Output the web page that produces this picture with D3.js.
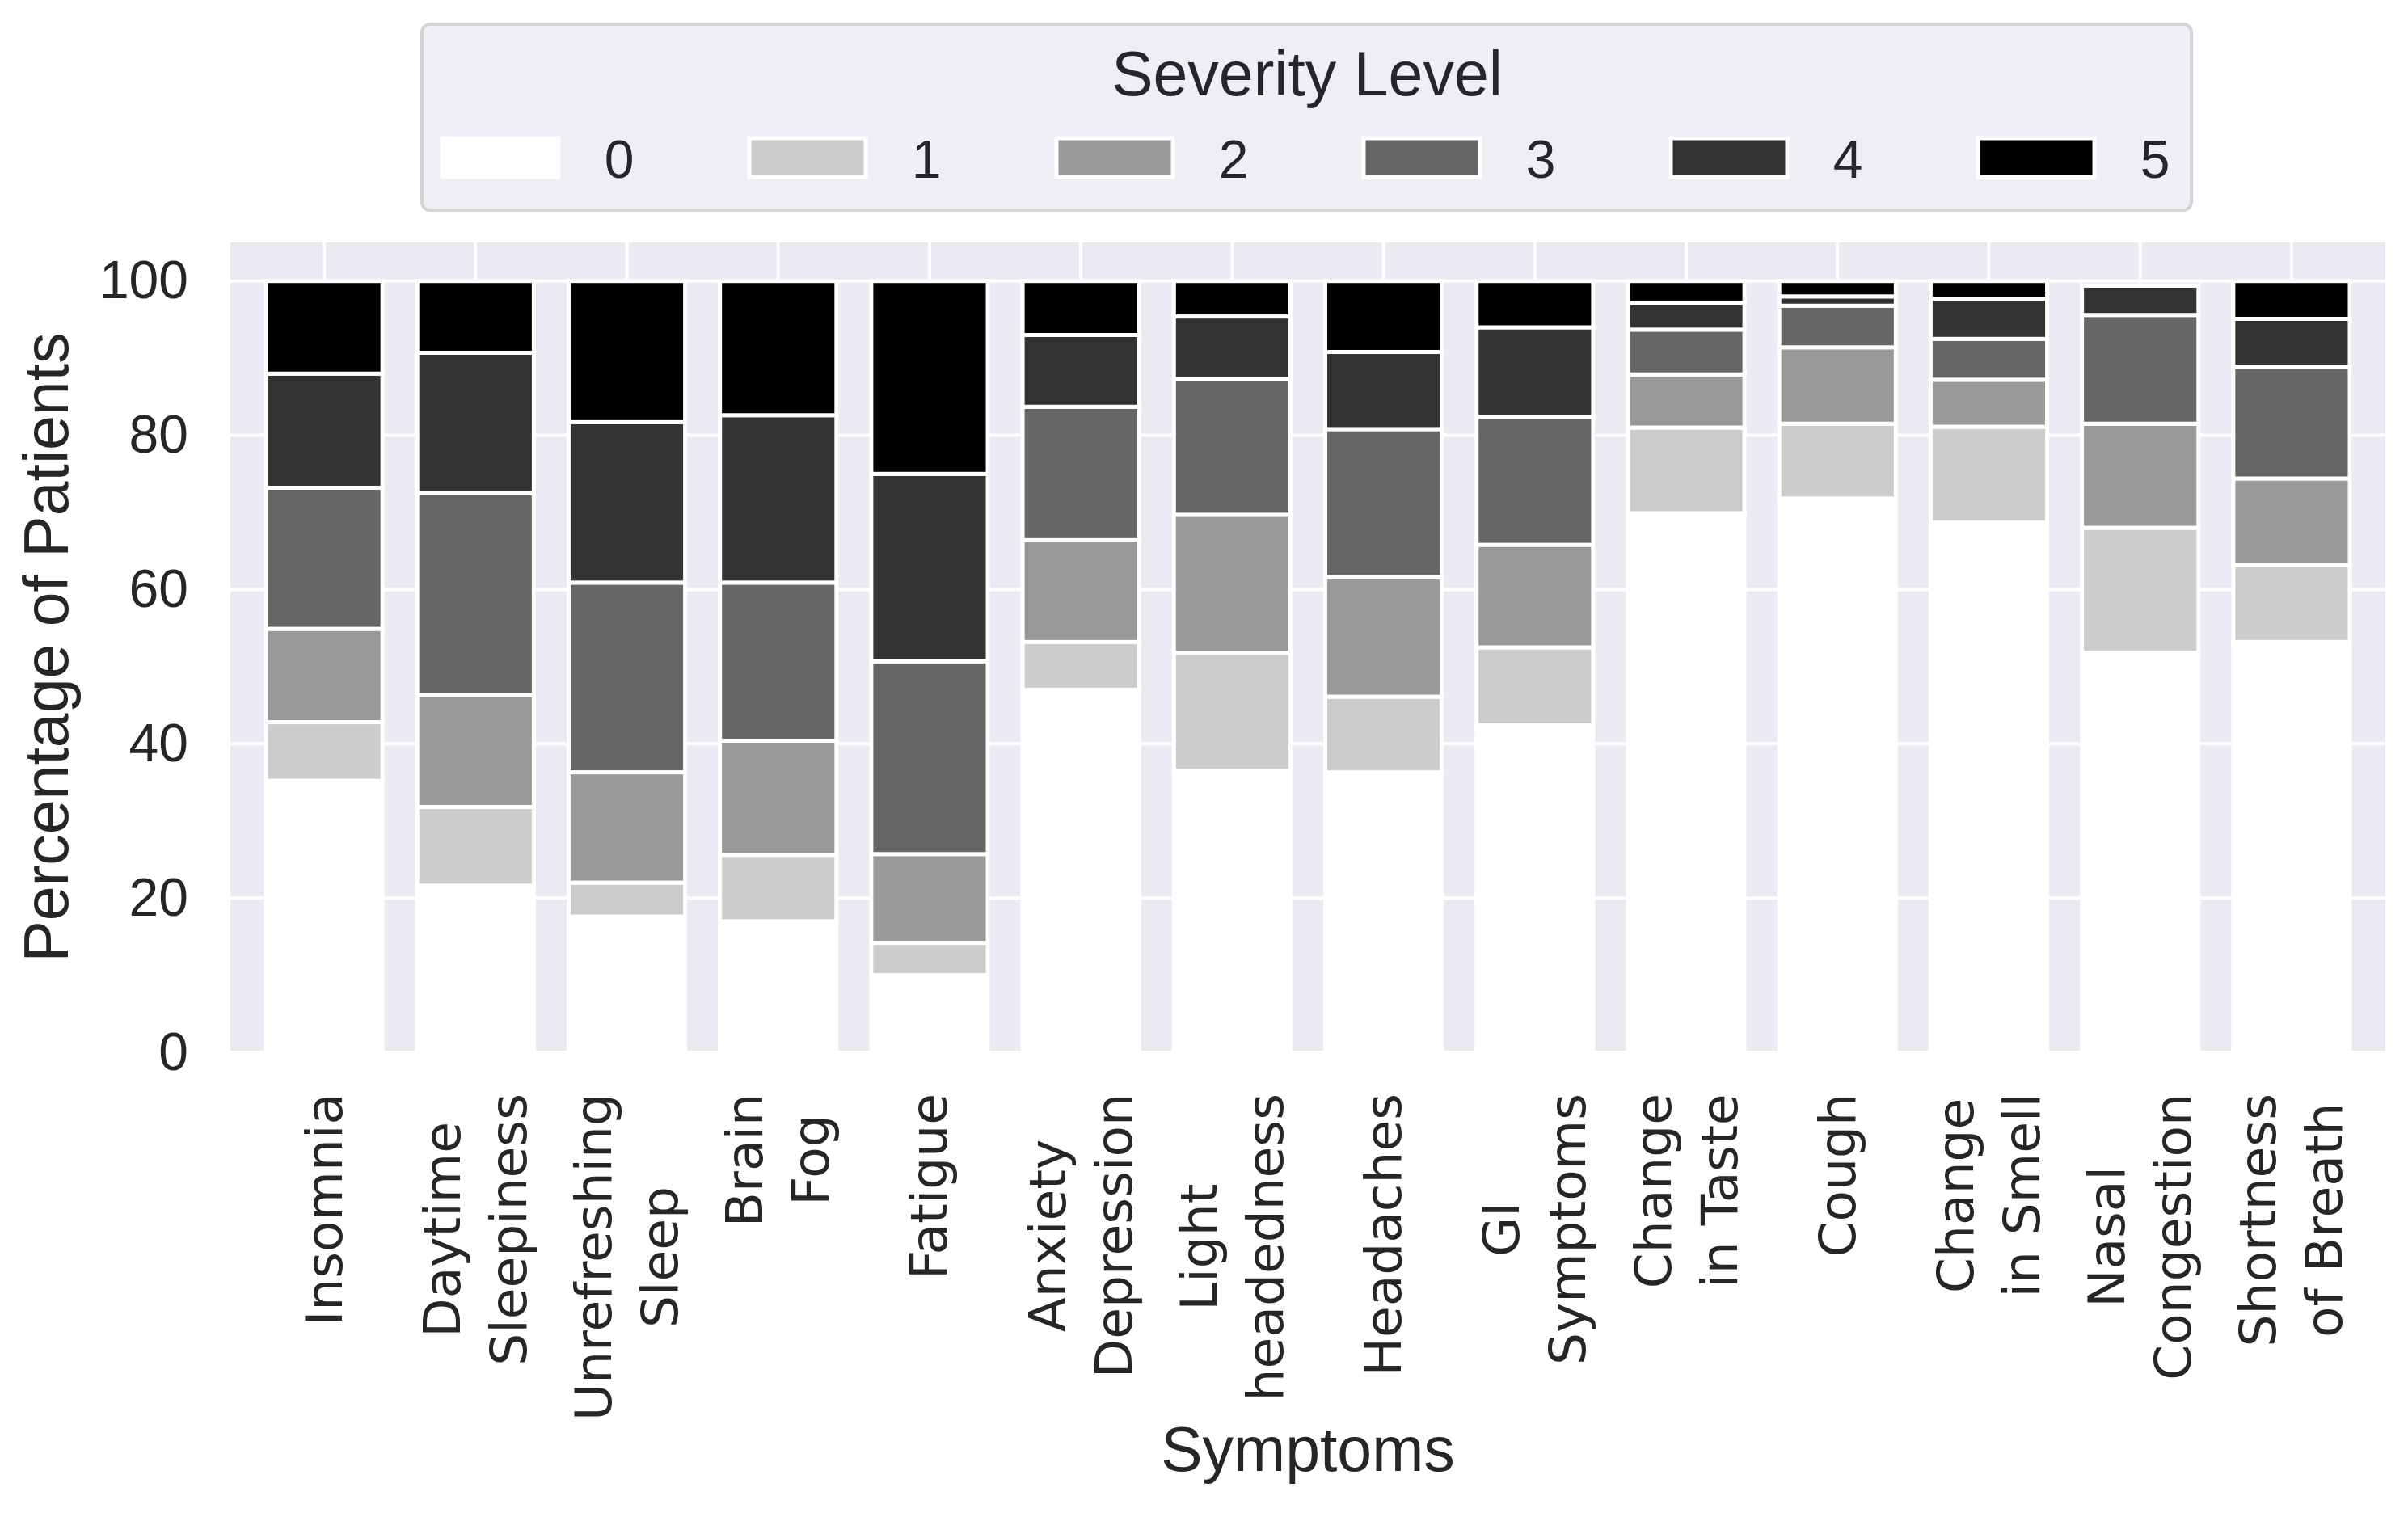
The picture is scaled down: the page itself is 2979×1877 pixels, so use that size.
<!DOCTYPE html>
<html>
<head>
<meta charset="utf-8">
<script src="https://cdn.jsdelivr.net/npm/d3@7"></script>
<style>
  body { margin: 0; background: #fff; }
  text { fill: #262626; }
</style>
</head>
<body>
<div id="root"></div>
<script>
const symptoms = ["Insomnia", "Daytime\nSleepiness", "Unrefreshing\nSleep", "Brain\nFog", "Fatigue",
	"Anxiety\nDepression", "Light\nheadedness", "Headaches", "GI\nSymptoms", "Change\nin Taste",
	"Cough", "Change\nin Smell", "Nasal\nCongestion", "Shortness\nof Breath"];

const levels = ["0", "1", "2", "3", "4", "5"];
const levelColors = ["#ffffff", "#cccccc", "#999999", "#666666", "#333333", "#000000"];

// percentage of patients per severity level, one value per symptom
const level0 = [35.2, 21.6, 17.6, 17.0, 10.0, 47.0, 36.5, 36.3, 42.4, 69.9, 71.8, 68.7, 51.8, 53.2];
const level1 = [7.6, 10.2, 4.4, 8.6, 4.2, 6.2, 15.3, 9.8, 10.1, 11.1, 9.7, 12.4, 16.2, 10.0];
const level2 = [12.1, 14.5, 14.3, 14.8, 11.5, 13.2, 17.9, 15.5, 13.3, 6.9, 9.9, 6.1, 13.5, 11.2];
const level3 = [18.3, 26.2, 24.6, 20.5, 25.0, 17.3, 17.6, 19.2, 16.6, 5.8, 5.4, 5.3, 14.1, 14.5];
const level4 = [14.8, 18.2, 20.8, 21.7, 24.3, 9.3, 8.1, 10.0, 11.6, 3.5, 1.2, 5.2, 3.8, 6.2];
const level5 = [12.0, 9.3, 18.3, 17.4, 25.0, 7.0, 4.6, 9.2, 6.0, 2.8, 2.0, 2.3, 0.0, 4.9];

const yTicks = [0, 20, 40, 60, 80, 100];

const W = 2979, H = 1877;
const plot = { left: 285, right: 2951, top: 300, bottom: 1302 };
const sansNarrow = "'Liberation Sans', Arial, sans-serif";
const sansWide = "'DejaVu Sans', sans-serif";

const svg = d3.select("#root")
	.append("svg")
		.attr("width", W)
		.attr("height", H);

const rows = symptoms.map((s, i) => {
	const row = { symptom: s };
	[level0, level1, level2, level3, level4, level5].forEach((arr, k) => row[levels[k]] = arr[i]);
	return row;
});

const x = d3.scaleLinear().domain([-0.62, symptoms.length - 1 + 0.62]).range([plot.left, plot.right]);
const y = d3.scaleLinear().domain([0, 105]).range([plot.bottom, plot.top]);
const color = d3.scaleOrdinal().domain(levels).range(levelColors);
const barWidth = 0.77;

// background + grid
svg.append("rect")
	.attr("x", plot.left).attr("y", plot.top)
	.attr("width", plot.right - plot.left).attr("height", plot.bottom - plot.top)
	.style("fill", "#eaeaf2");

const grid = svg.append("g");
grid.selectAll(".hgrid")
	.data(yTicks).enter()
	.append("line")
	.attr("x1", plot.left).attr("x2", plot.right)
	.attr("y1", d => y(d)).attr("y2", d => y(d))
	.style("stroke", "#fff").style("stroke-width", 4);
grid.selectAll(".vgrid")
	.data(d3.range(symptoms.length)).enter()
	.append("line")
	.attr("x1", d => x(d)).attr("x2", d => x(d))
	.attr("y1", plot.top).attr("y2", plot.bottom)
	.style("stroke", "#fff").style("stroke-width", 4);

// stacked bars
const series = d3.stack().keys(levels)(rows);

svg.append("g")
	.selectAll("g")
	.data(series).enter()
	.append("g")
		.style("fill", d => color(d.key))
	.selectAll("rect")
	.data(d => d.map((p, i) => ({ p, i })))
	.enter()
	.append("rect")
		.attr("x", d => x(d.i - barWidth / 2))
		.attr("width", x(barWidth) - x(0))
		.attr("y", d => y(d.p[1]))
		.attr("height", d => Math.max(0, y(d.p[0]) - y(d.p[1])))
		.style("stroke", "#fff")
		.style("stroke-width", 5);

// y axis
const yAxis = svg.append("g")
	.attr("transform", `translate(${plot.left},0)`)
	.call(d3.axisLeft(y).tickValues(yTicks).tickSize(0).tickPadding(52));
yAxis.select(".domain").remove();
yAxis.selectAll("text")
	.style("font-family", sansNarrow)
	.style("font-size", "66px")
	.style("fill", "#262626");

// x tick labels (rotated, multi-line centred)
const xLabelTop = 1353;
const lineGap = 82;
const xLabels = svg.append("g")
	.selectAll("g")
	.data(symptoms).enter()
	.append("g")
		.attr("transform", (d, i) => `translate(${x(i)},${xLabelTop}) rotate(-90)`);

xLabels.each(function(d) {
	const g = d3.select(this);
	const lines = d.split("\n");
	const texts = lines.map((line, k) => g.append("text")
		.text(line)
		.attr("y", (k - (lines.length - 1) / 2) * lineGap)
		.attr("dominant-baseline", "central")
		.attr("text-anchor", "middle")
		.style("font-family", sansWide)
		.style("font-size", "63px"));
	const maxLen = d3.max(texts, t => t.node().getComputedTextLength());
	texts.forEach(t => t.attr("x", -maxLen / 2));
});

// axis titles
svg.append("text")
	.attr("transform", `translate(57,${(plot.top + plot.bottom) / 2}) rotate(-90)`)
	.attr("text-anchor", "middle")
	.attr("dominant-baseline", "central")
	.style("font-family", sansNarrow)
	.style("font-size", "77px")
	.text("Percentage of Patients");

svg.append("text")
	.attr("x", (plot.left + plot.right) / 2)
	.attr("y", 1820)
	.attr("text-anchor", "middle")
	.style("font-family", sansNarrow)
	.style("font-size", "77px")
	.text("Symptoms");

// legend
const legend = svg.append("g");
legend.append("rect")
	.attr("x", 522).attr("y", 30)
	.attr("width", 2189).attr("height", 230)
	.attr("rx", 10)
	.style("fill", "#eeeef4")
	.style("stroke", "#d4d4d8")
	.style("stroke-width", 4);

legend.append("text")
	.attr("x", 1617).attr("y", 118)
	.attr("text-anchor", "middle")
	.style("font-family", sansNarrow)
	.style("font-size", "77px")
	.text("Severity Level");

const items = legend.selectAll(".item")
	.data(levels).enter()
	.append("g")
		.attr("transform", (d, i) => `translate(${547 + i * 380},171)`);

items.append("rect")
	.attr("width", 144).attr("height", 48)
	.style("fill", d => color(d))
	.style("stroke", "#fff")
	.style("stroke-width", 5);

items.append("text")
	.attr("x", 219).attr("y", 49)
	.attr("text-anchor", "middle")
	.style("font-family", sansNarrow)
	.style("font-size", "66px")
	.text(d => d);
</script>
</body>
</html>
